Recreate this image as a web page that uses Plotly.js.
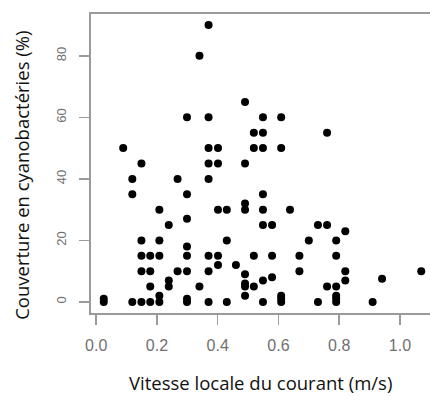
<!DOCTYPE html>
<html>
<head>
<meta charset="utf-8">
<script src="https://cdn.plot.ly/plotly-3.0.1.min.js"></script>
<style>
  html, body { margin: 0; padding: 0; background: #fff; overflow: hidden; }
  #chart { width: 440px; height: 396px; }
</style>
</head>
<body>
<div id="chart"></div>
<script>
// Local current speed (m/s) and cyanobacteria cover (%) for each sampled site
const speed = [
  0.370,
  0.340,
  0.490,
  0.299, 0.370, 0.549, 0.609,
  0.519, 0.549, 0.760,
  0.089, 0.370, 0.401, 0.519, 0.549, 0.609,
  0.149, 0.370, 0.401, 0.490,
  0.119, 0.268, 0.370,
  0.119, 0.299, 0.549,
  0.490,
  0.208, 0.401, 0.430, 0.490, 0.549, 0.638,
  0.299,
  0.239, 0.549, 0.579, 0.730, 0.760,
  0.820,
  0.149, 0.208, 0.430, 0.700, 0.790,
  0.299,
  0.149, 0.178, 0.208, 0.299, 0.370, 0.401, 0.519, 0.579, 0.669, 0.790,
  0.401, 0.460,
  0.149, 0.178, 0.268, 0.299, 0.370, 0.669, 0.820, 1.070,
  0.490,
  0.579, 0.941,
  0.239, 0.549, 0.820,
  0.490,
  0.178, 0.239, 0.340, 0.490, 0.519, 0.760, 0.790,
  0.208, 0.490, 0.609, 0.790,
  0.025, 0.299, 0.609, 0.790,
  0.025, 0.119, 0.149, 0.178, 0.208, 0.299, 0.370, 0.430, 0.549, 0.609, 0.730, 0.790, 0.910
];
const cover = [
  90,
  80,
  65,
  60, 60, 60, 60,
  55, 55, 55,
  50, 50, 50, 50, 50, 50,
  45, 45, 45, 45,
  40, 40, 40,
  35, 35, 35,
  32,
  30, 30, 30, 30, 30, 30,
  27,
  25, 25, 25, 25, 25,
  23,
  20, 20, 20, 20, 20,
  18,
  15, 15, 15, 15, 15, 15, 15, 15, 15, 15,
  12, 12,
  10, 10, 10, 10, 10, 10, 10, 10,
  9,
  8, 7.5,
  7, 7, 7,
  6,
  5, 5, 5, 5, 5, 5, 5,
  2, 2, 2, 2,
  1, 1, 1, 1,
  0, 0, 0, 0, 0, 0, 0, 0, 0, 0, 0, 0, 0
];

const xTicks = [0, 0.2, 0.4, 0.6, 0.8, 1.0];
const xTickText = ['0.0', '0.2', '0.4', '0.6', '0.8', '1.0'];
const yTicks = [0, 20, 40, 60, 80];
const yTickText = ['0', '20', '40', '60', '80'];

const xTitle = 'Vitesse locale du courant (m/s)';
const yTitle = 'Couverture en cyanobactéries (%)';

const frameColor = '#9a9a9a';
const tickFont = { family: 'Liberation Sans, Arial, sans-serif', color: '#707070' };
const titleFont = { family: 'Open Sans, sans-serif', size: 18.5, color: '#111' };

const trace = {
  type: 'scatter',
  mode: 'markers',
  x: speed,
  y: cover,
  marker: { color: '#000', size: 8, line: { width: 0 } },
  hoverinfo: 'x+y'
};

const layout = {
  width: 440,
  height: 396,
  margin: { l: 91, r: 6, t: 14, b: 83 },
  paper_bgcolor: '#fff',
  plot_bgcolor: '#fff',
  showlegend: false,
  xaxis: {
    range: [-0.017, 1.112],
    tickvals: xTicks,
    ticktext: xTickText,
    ticks: 'outside',
    ticklen: 10,
    tickwidth: 1.5,
    tickcolor: frameColor,
    ticklabelstandoff: 7,
    tickfont: Object.assign({ size: 16 }, tickFont),
    showline: true,
    mirror: true,
    linecolor: frameColor,
    linewidth: 2,
    showgrid: false,
    zeroline: false,
    fixedrange: true
  },
  yaxis: {
    range: [-3.6, 93.6],
    tickvals: yTicks,
    ticktext: yTickText,
    tickangle: -90,
    ticks: 'outside',
    ticklen: 10,
    tickwidth: 1.5,
    tickcolor: frameColor,
    ticklabelstandoff: 8,
    tickfont: Object.assign({ size: 13 }, tickFont),
    showline: true,
    mirror: true,
    linecolor: frameColor,
    linewidth: 2,
    showgrid: false,
    zeroline: false,
    fixedrange: true
  },
  annotations: [
    {
      text: xTitle,
      xref: 'paper', yref: 'paper',
      x: 0.495, y: -0.232,
      xanchor: 'center', yanchor: 'middle',
      borderpad: 0,
      showarrow: false,
      font: titleFont
    },
    {
      text: yTitle,
      xref: 'paper', yref: 'paper',
      x: -0.205, y: 0.461,
      xanchor: 'center', yanchor: 'middle',
      textangle: -90,
      borderpad: 0,
      showarrow: false,
      font: titleFont
    }
  ]
};

Plotly.newPlot('chart', [trace], layout, { displayModeBar: false, staticPlot: true });
</script>
</body>
</html>
